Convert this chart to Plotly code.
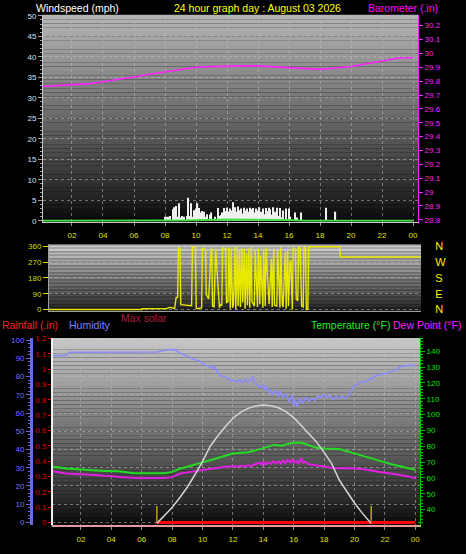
import plotly.graph_objects as go

W, H = 466, 554

# ---------------- data ----------------
hour_ticks = [2, 4, 6, 8, 10, 12, 14, 16, 18, 20, 22, 24]
hour_labels = ["02", "04", "06", "08", "10", "12", "14", "16", "18", "20", "22", "00"]

# Barometer (inHg)
baro_hours = list(range(25))
baro_inhg = [29.76, 29.77, 29.775, 29.78, 29.795, 29.81, 29.83, 29.85, 29.865, 29.885,
             29.90, 29.905, 29.91, 29.91, 29.91, 29.905, 29.895, 29.89, 29.885, 29.895,
             29.905, 29.925, 29.945, 29.965, 29.97]
baro_ticks = [28.8, 28.9, 29.0, 29.1, 29.2, 29.3, 29.4, 29.5, 29.6, 29.7, 29.8, 29.9, 30.0, 30.1, 30.2]
baro_labels = ["28.8", "28.9", "29", "29.1", "29.2", "29.3", "29.4", "29.5", "29.6", "29.7",
               "29.8", "29.9", "30", "30.1", "30.2"]

# Wind speed (mph)
wind_hours = [8.0, 8.1, 8.2, 8.3,
              8.5, 8.6, 8.7, 8.8, 8.9, 9.0, 9.1, 9.2,
              9.4, 9.5, 9.6, 9.7, 9.8, 9.9, 10.0, 10.1, 10.2, 10.3, 10.4, 10.5, 10.6, 10.7,
              10.9, 11.0, 11.2,
              11.4, 11.5, 11.6, 11.7, 11.8, 11.9,
              12.0, 12.1, 12.2, 12.3, 12.4, 12.5, 12.6, 12.7, 12.8, 12.9,
              13.0, 13.1, 13.2, 13.3, 13.4, 13.5, 13.6, 13.7, 13.8, 13.9,
              14.0, 14.1, 14.2, 14.3, 14.4, 14.5, 14.6, 14.7, 14.8, 14.9,
              15.0, 15.1, 15.2, 15.3, 15.4, 15.5, 15.6,
              15.8, 16.0, 16.1, 16.4, 16.5, 16.8, 18.4, 19.0]
wind_mph = [1.0, 1.0, 1.0, 1.2,
            2.8, 3.3, 3.6, 1.0, 4.3, 0.8, 1.2, 1.0,
            1.2, 5.6, 1.2, 4.3, 1.0, 2.6, 3.0, 4.3, 3.1, 2.0, 2.4, 2.2, 1.0, 1.6,
            1.5, 2.0, 1.0,
            3.1, 1.2, 1.4, 2.0, 3.1, 2.4,
            3.2, 2.3, 3.0, 2.5, 4.5, 3.3, 2.2, 3.5, 2.6, 3.0,
            1.8, 3.2, 2.5, 3.0, 2.2, 3.2, 2.8, 3.1, 2.0, 3.0,
            2.5, 3.3, 2.2, 3.0, 1.6, 3.1, 2.4, 3.2, 2.8, 1.5,
            3.3, 2.2, 3.2, 1.2, 3.1, 0.8, 2.5,
            3.0, 3.0, 1.0, 2.0, 0.8, 2.0, 3.2, 2.2]

avg_wind_hours = [0, 8, 9, 12, 13, 16, 17, 24]
avg_wind_mph = [0, 0, 0.1, 0.3, 0.3, 0.2, 0, 0]

# Wind direction (degrees)
dir_hours = [0.0, 6.0, 6.0, 7.6, 7.8, 8.0, 8.1, 8.2, 8.3, 8.35,
             8.45, 8.5, 9.2, 9.25, 9.45, 9.5, 9.6, 9.85, 9.9, 10.1,
             10.15, 10.3, 10.45, 10.5, 10.55, 10.65, 10.75, 11.0, 11.05, 11.15,
             11.2, 11.4, 11.45, 11.55, 11.6, 11.7, 11.75, 11.85, 11.9, 12.0,
             12.05, 12.15, 12.2, 12.3, 12.35, 12.45, 12.5, 12.6, 12.65, 12.75,
             12.8, 12.9, 12.95, 13.05, 13.1, 13.25, 13.3, 13.45, 13.5, 13.6,
             13.65, 13.8, 13.85, 13.95, 14.0, 14.15, 14.2, 14.35, 14.4, 14.5,
             14.55, 14.7, 14.75, 14.9, 14.95, 15.05, 15.1, 15.25, 15.3, 15.4,
             15.45, 15.55, 15.6, 15.7, 15.75, 15.9, 15.95, 16.05, 16.1, 16.2,
             16.3, 16.4, 16.45, 16.55, 16.6, 16.7, 16.75, 16.85, 18.75, 18.8,
             24.0]
dir_deg = [0, 0, 5, 6, 12, 10, 3, 68, 70, 352,
           348, 28, 22, 355, 352, 8, 5, 10, 352, 340,
           85, 60, 330, 350, 20, 15, 345, 8, 30, 25,
           352, 348, 40, 45, 355, 5, 350, 10, 30, 358,
           0, 355, 20, 340, 15, 350, 40, 345, 5, 320,
           25, 350, 10, 355, 45, 20, 335, 15, 350, 30,
           310, 10, 345, 20, 355, 35, 30, 290, 15, 350,
           25, 20, 340, 10, 355, 30, 15, 330, 5, 345,
           20, 270, 280, 0, 350, 345, 60, 50, 355, 350,
           20, 15, 355, 350, 0, 2, 355, 358, 358, 300,
           300]
dir_ticks = [0, 90, 180, 270, 360]
compass_labels = ["N", "E", "S", "W", "N"]

# Humidity (%)
hum_hours = [0.0, 0.5, 1.0, 1.3, 2.0, 3.0, 4.0, 5.0, 6.0, 6.5, 7.0, 7.3, 7.6, 7.9, 8.0, 8.2,
             8.5, 8.8, 9.2, 9.5, 9.8, 10.0, 10.3, 10.5, 10.7, 10.8, 11.0, 11.2, 11.4, 11.6,
             11.8, 12.0, 12.2, 12.4, 12.6, 12.8, 13.0, 13.2, 13.3, 13.4, 13.6, 13.8, 14.0,
             14.1, 14.2, 14.4, 14.5, 14.6, 14.8, 15.0, 15.1, 15.3, 15.5, 15.7, 15.9, 16.0,
             16.1, 16.2, 16.4, 16.6, 16.8, 17.0, 17.2, 17.4, 17.6, 17.8, 18.0, 18.2, 18.4,
             18.6, 18.8, 19.0, 19.2, 19.4, 19.6, 19.8, 20.0, 20.2, 20.5, 20.8, 21.0, 21.3,
             21.6, 21.9, 22.2, 22.5, 22.8, 23.0, 23.3, 23.6, 24.0]
hum_pct = [91.5, 91.5, 91.6, 93.3, 93.3, 93.3, 93.3, 93.3, 93.4, 93.4, 93.5, 94.0, 94.3, 95.0, 94.5, 94.8,
           93.0, 91.8, 90.5, 89.3, 88.5, 87.2, 86.0, 85.5, 84.3, 86.0, 82.0, 80.5, 80.0, 79.5,
           78.0, 78.0, 77.0, 78.0, 77.0, 78.5, 77.0, 78.5, 80.0, 77.0, 75.5, 74.0, 75.5,
           72.5, 74.5, 71.0, 73.0, 70.0, 72.5, 69.0, 72.0, 68.5, 70.5, 66.5, 69.5, 64.0,
           67.5, 63.5, 68.0, 65.5, 68.5, 66.5, 68.0, 67.0, 69.5, 68.5, 70.0, 68.5, 69.5,
           67.5, 69.0, 68.0, 69.5, 68.0, 69.5, 72.0, 75.0, 76.0, 77.0, 77.3, 78.5, 80.0,
           81.0, 81.5, 82.0, 83.0, 84.0, 85.5, 86.0, 86.2, 86.0]

# Temperature (F)
temp_hours = [0.0, 0.5, 1.0, 1.5, 2.0, 2.5, 3.0, 3.5, 4.0, 4.5, 5.0, 5.5, 6.0, 6.5, 7.0, 7.5,
              8.0, 8.5, 9.0, 9.5, 10.0, 10.5, 11.0, 11.5, 12.0, 12.5, 13.0, 13.5, 14.0, 14.5,
              14.75, 15.0, 15.25, 15.5, 16.0, 16.5, 17.0, 17.5, 18.0, 18.5, 19.0, 19.5, 20.0,
              20.5, 21.0, 21.5, 22.0, 22.5, 23.0, 23.5, 24.0]
temp_f = [66.9, 66.8, 66.0, 65.6, 65.4, 65.2, 64.8, 64.4, 64.3, 64.2, 63.6, 63.0, 63.0, 63.0, 63.0, 63.0,
          63.8, 65.8, 67.0, 68.2, 69.8, 71.2, 72.4, 74.0, 75.4, 75.8, 76.2, 77.4, 78.8, 80.6,
          81.0, 80.4, 80.3, 81.2, 82.2, 82.4, 80.8, 79.0, 78.6, 78.6, 78.2, 76.9, 75.4,
          73.9, 72.6, 71.3, 69.8, 68.5, 67.4, 66.0, 65.1]

# Dew point (F)
dew_hours = [0.0, 0.5, 1.0, 1.5, 2.0, 2.5, 3.0, 3.5, 4.0, 4.5, 5.0, 5.5, 6.0, 6.5, 7.0, 7.5,
             8.0, 8.5, 9.0, 9.5, 10.0, 10.5, 11.0, 11.5, 12.0, 12.25, 12.5, 12.75, 13.0, 13.25,
             13.5, 13.75, 13.9, 14.0, 14.15, 14.3, 14.5, 14.65, 14.8, 15.0, 15.15, 15.3, 15.45,
             15.6, 15.75, 15.9, 16.0, 16.15, 16.3, 16.5, 16.6, 16.75, 17.0, 17.25, 17.5, 17.75,
             18.0, 18.5, 19.0, 19.5, 20.0, 20.5, 21.0, 21.5, 22.0, 22.5, 23.0, 23.5, 24.0]
dew_f = [64.3, 63.8, 62.8, 62.6, 62.5, 62.2, 61.8, 61.3, 61.2, 60.6, 60.2, 59.9, 59.8, 59.9, 59.9, 59.9,
         60.5, 62.6, 63.5, 64.2, 64.8, 65.5, 66.5, 67.0, 67.4, 67.0, 67.6, 67.2, 68.0, 67.6,
         68.8, 69.6, 68.4, 70.2, 68.6, 69.8, 68.9, 70.6, 69.2, 70.4, 69.0, 71.0, 69.5,
         71.3, 69.8, 71.8, 69.6, 70.8, 69.2, 72.5, 69.5, 70.2, 68.6, 68.2, 67.8, 67.2,
         66.8, 66.4, 66.1, 66.3, 65.9, 65.6, 64.8, 63.8, 63.2, 62.6, 62.0, 61.0, 59.7]

# Max solar (W/m2)
solar_hours = [7.0, 7.5, 8.0, 8.5, 9.0, 9.5, 10.0, 10.5, 11.0, 11.5, 12.0, 12.5, 13.0, 13.5, 14.0,
               14.5, 15.0, 15.5, 16.0, 16.5, 17.0, 17.5, 18.0, 18.5, 19.0, 19.5, 20.0, 20.5, 21.0, 21.1]
solar_wm2 = [0, 60, 120, 195, 275, 370, 470, 585, 665, 735, 800, 845, 875, 893, 900,
             895, 880, 850, 805, 745, 680, 620, 540, 455, 330, 240, 155, 80, 15, 0]

# Rainfall (in)
rain_hours = [7.0, 24.0]
rain_in = [0.0, 0.0]

# Sunrise / sunset
sun_events = [7.0, 21.1]

# ---------------- figure ----------------
FONT = "Liberation Sans, Arial, sans-serif"
fig = go.Figure()

fig.add_trace(go.Bar(x=wind_hours, y=wind_mph, xaxis="x", yaxis="y", width=0.075,
                     marker=dict(color="#f0f0f0", line=dict(width=0)), hoverinfo="skip"))
fig.add_trace(go.Scatter(x=avg_wind_hours, y=avg_wind_mph, xaxis="x", yaxis="y", mode="lines",
                         line=dict(color="#44e044", width=2), hoverinfo="skip"))
fig.add_trace(go.Scatter(x=baro_hours, y=baro_inhg, xaxis="x", yaxis="y2", mode="lines",
                         line=dict(color="#ff22ff", width=1.6), hoverinfo="skip"))

fig.add_trace(go.Scatter(x=dir_hours, y=dir_deg, xaxis="x3", yaxis="y3", mode="lines",
                         line=dict(color="#e8e800", width=1.4), hoverinfo="skip"))
fig.add_trace(go.Scatter(x=dir_hours, y=dir_deg, xaxis="x3", yaxis="y4", mode="lines",
                         line=dict(color="rgba(0,0,0,0)", width=0), hoverinfo="skip"))

fig.add_trace(go.Scatter(x=solar_hours, y=solar_wm2, xaxis="x5", yaxis="y8", mode="lines",
                         line=dict(color="#d4d4d4", width=1.5), hoverinfo="skip"))
fig.add_trace(go.Scatter(x=hum_hours, y=hum_pct, xaxis="x5", yaxis="y5", mode="lines",
                         line=dict(color="#8c8cff", width=1.6), hoverinfo="skip"))
fig.add_trace(go.Scatter(x=temp_hours, y=temp_f, xaxis="x5", yaxis="y7", mode="lines",
                         line=dict(color="#22dd22", width=2), hoverinfo="skip"))
fig.add_trace(go.Scatter(x=dew_hours, y=dew_f, xaxis="x5", yaxis="y7", mode="lines",
                         line=dict(color="#e020e0", width=2), hoverinfo="skip"))
fig.add_trace(go.Scatter(x=rain_hours, y=rain_in, xaxis="x5", yaxis="y6", mode="lines",
                         line=dict(color="#ff0000", width=3), hoverinfo="skip"))
sx, sy = [], []
for t in sun_events:
    sx += [t, t, None]
    sy += [0, 9, None]
fig.add_trace(go.Scatter(x=sx, y=sy, xaxis="x5", yaxis="y5", mode="lines",
                         line=dict(color="#b8a800", width=1.5), hoverinfo="skip"))

# gradient backgrounds
shapes = []
def gradient(xr, yr, top, bottom, n=48, gamma=0.85):
    for i in range(n):
        f = ((i + 0.5) / n) ** gamma
        v = int(round(bottom + (top - bottom) * f))
        shapes.append(dict(type="rect", xref=xr + " domain", yref=yr + " domain",
                           x0=0, x1=1, y0=i / n, y1=(i + 1) / n,
                           fillcolor=f"rgb({v},{v},{v})", line=dict(width=0), layer="below"))
gradient("x", "y", 182, 6)
gradient("x3", "y3", 212, 22)
gradient("x5", "y5", 200, 6)
shapes.append(dict(type="line", xref="x5 domain", yref="y5 domain", x0=0, x1=0, y0=0, y1=1,
                   line=dict(color="#f0f0f0", width=2), layer="above"))

tickf = lambda c, s=8: dict(color=c, size=s, family=FONT)
grid = dict(showgrid=True, gridcolor="rgba(190,190,190,0.55)", griddash="dot", gridwidth=1)

layout = dict(
    width=W, height=H, margin=dict(l=0, r=0, t=0, b=0),
    paper_bgcolor="black", plot_bgcolor="black", showlegend=False,
    font=dict(family=FONT), shapes=shapes, barmode="overlay",
    xaxis=dict(domain=[43 / W, 418 / W], range=[0.13, 24.32], anchor="y",
               tickmode="array", tickvals=hour_ticks, ticktext=hour_labels,
               tickfont=tickf("#e0e000"), ticks="outside", ticklen=3, tickcolor="#909090",
               ticklabelstandoff=3, showline=True, linecolor="#c8c8c8", zeroline=False, **grid),
    yaxis=dict(domain=[1 - 221 / H, 1 - 11 / H], range=[-0.24, 50.24], anchor="x",
               tick0=0, dtick=5, tickfont=tickf("#d4e2ff"), ticks="outside", ticklen=4,
               tickcolor="#a0a0a0", minor=dict(dtick=1, ticklen=2, tickcolor="#a0a0a0", ticks="outside", showgrid=False),
               showline=True, linecolor="#c8c8c8", zeroline=False, **grid),
    yaxis2=dict(overlaying="y", side="right", anchor="x", range=[28.786, 30.278],
                tickmode="array", tickvals=baro_ticks, ticktext=baro_labels,
                tickfont=tickf("#ff22ff"), ticks="outside", ticklen=4, tickcolor="#ff22ff",
                showline=True, linecolor="#ff22ff", showgrid=False, zeroline=False),
    xaxis3=dict(domain=[49 / W, 421 / W], range=[0, 24], anchor="y3", showticklabels=False,
                ticks="", showgrid=False, showline=True, linecolor="#a0a0a0", zeroline=False),
    yaxis3=dict(domain=[1 - 312 / H, 1 - 244 / H], range=[-11, 371], anchor="x3",
                tickmode="array", tickvals=dir_ticks, tickfont=tickf("#d8d800"),
                ticks="outside", ticklen=5, tickcolor="#d8d800", showline=True,
                linecolor="#a0a0a0", zeroline=False, **grid),
    yaxis4=dict(overlaying="y3", side="right", anchor="x3", range=[-11, 371],
                tickmode="array", tickvals=dir_ticks, ticktext=compass_labels,
                tickfont=tickf("#f0f000", 11), ticks="outside", ticklen=11,
                tickcolor="rgba(0,0,0,0)", showgrid=False, zeroline=False, showline=False),
    xaxis5=dict(domain=[52 / W, 420 / W], range=[0.1, 24.31], anchor="y5",
                tickmode="array", tickvals=hour_ticks, ticktext=hour_labels,
                tickfont=tickf("#e0e000"), ticks="outside", ticklen=3, tickcolor="#909090",
                ticklabelstandoff=2, showline=True, linecolor="#e89a9a", linewidth=2,
                zeroline=False, **grid),
    yaxis5=dict(domain=[1 - 529 / H, 1 - 339 / H], range=[-1.6, 101.1], anchor="free",
                position=31 / W, side="left", tick0=0, dtick=10, tickfont=tickf("#7272ff"),
                ticks="outside", ticklen=4, tickcolor="#6a6ae8",
                minor=dict(dtick=2, ticklen=2, tickcolor="#6a6ae8", ticks="outside", showgrid=False),
                showline=True, linecolor="#6a6ae8", linewidth=3, zeroline=False, **grid),
    yaxis6=dict(overlaying="y5", anchor="free", position=51 / W, side="left",
                range=[-0.019, 1.203], tick0=0, dtick=0.1, tickfont=tickf("#e00000"),
                ticks="outside", ticklen=3, tickcolor="#e00000", showline=True,
                linecolor="#e04040", showgrid=False, zeroline=False),
    yaxis7=dict(overlaying="y5", anchor="x5", side="right", range=[30.04, 148.3],
                tick0=40, dtick=10, tickfont=tickf("#00e000"), ticks="outside", ticklen=4,
                tickcolor="#00c000", minor=dict(dtick=2, ticklen=2, tickcolor="#00c000", ticks="outside", showgrid=False),
                showline=True, linecolor="#00c000", showgrid=False, zeroline=False),
    yaxis8=dict(overlaying="y5", anchor="x5", range=[-15, 1410], visible=False),
)
fig.update_layout(**layout)

def label(text, x, y, color, xanchor="left", size=10.5):
    fig.add_annotation(text=text, x=x / W, y=1 - y / H, xref="paper", yref="paper",
                       xanchor=xanchor, yanchor="middle", showarrow=False,
                       font=dict(color=color, size=size, family=FONT))

label("Windspeed (mph)", 34, 4, "#ffffff")
label("24 hour graph day : August 03 2026", 257, 4, "#ffff00", xanchor="center")
label("Barometer (.in)", 440, 4, "#ff00ff", xanchor="right")
label("Rainfall (.in)", 0, 326, "#ff2020")
label("Humidity", 67, 326, "#8080ff")
label("Max solar", 119, 319, "#b01c3c")
label("Temperature (°F)", 392, 326, "#22ee22", xanchor="right")
label("Dew Point (°F)", 463, 326, "#ff22ff", xanchor="right")

fig.write_html("out.html", config={"displayModeBar": False},
               post_script="document.body.style.margin='0';document.body.style.padding='0';")
